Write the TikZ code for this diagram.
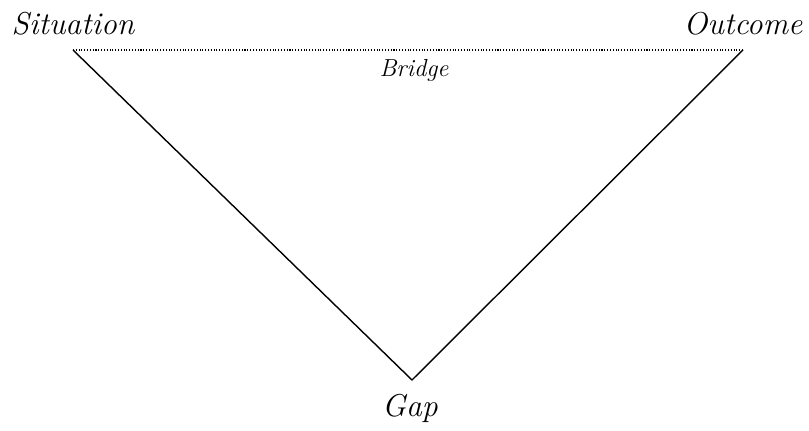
\documentclass[tikz,border=0pt]{standalone}
\usepackage{tikz}
\usetikzlibrary{calc}

\begin{document}
\begin{tikzpicture}[x=0.02cm,y=-0.02cm]
\tikzset{lbl/.style={font=\fontsize{18}{20}\selectfont\itshape,inner sep=0pt}}
\useasboundingbox (0,0) rectangle (809,431);

\coordinate (sit) at (73,50);
\coordinate (out) at (743,50);
\coordinate (gap) at (412,380);

\draw[densely dotted,line width=0.6pt] (sit) -- (out);
\draw[line width=0.8pt] (sit) -- (gap) -- (out);

\node[lbl,anchor=base] (sitlbl) at (73,35) {Situation};
\node[lbl,anchor=base] (outlbl) at (743,35) {Outcome};
\node[lbl,anchor=base,font=\fontsize{14}{16}\selectfont\itshape] (brlbl) at (414,77) {Bridge};
\node[lbl,anchor=base] (gaplbl) at (410,417) {Gap};

\end{tikzpicture}
\end{document}
